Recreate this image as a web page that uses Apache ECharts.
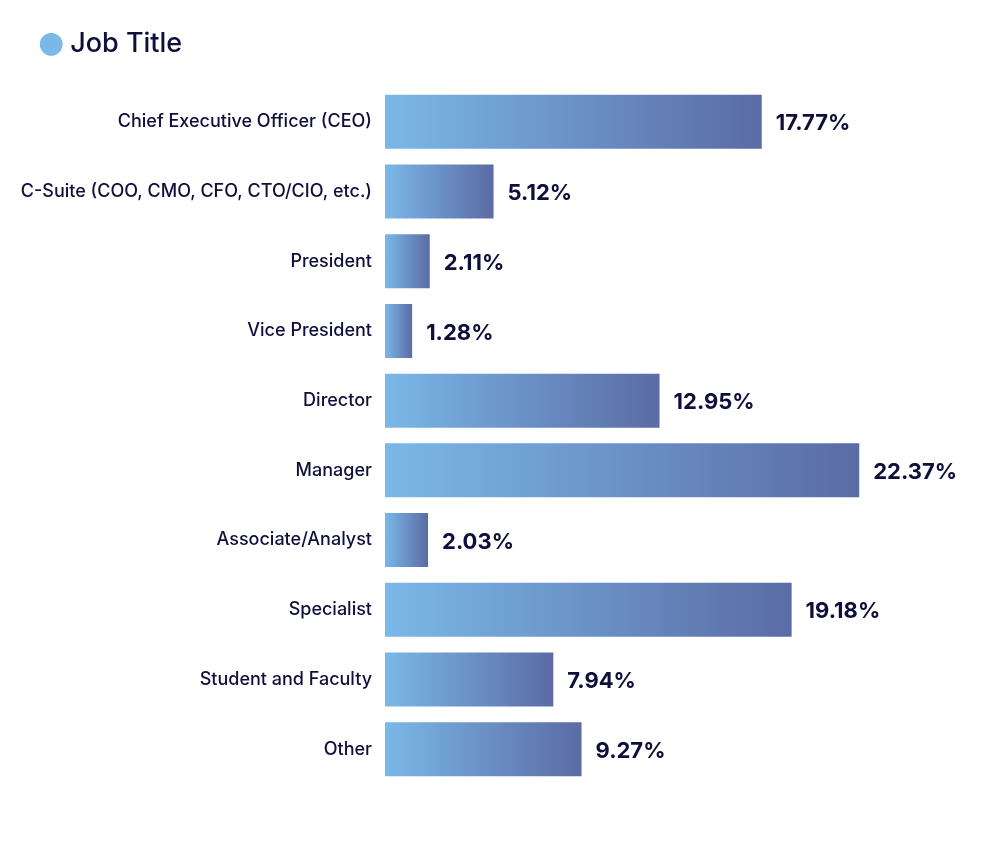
<!DOCTYPE html>
<html>
<head>
<meta charset="utf-8">
<script src="https://cdn.jsdelivr.net/npm/echarts@6/dist/echarts.min.js"></script>
<style>
  html, body { margin: 0; padding: 0; background: #fff; }
  #chart { width: 985px; height: 851px; }
</style>
</head>
<body>
<div id="chart"></div>
<script>
const categories = [
  'Chief Executive Officer (CEO)',
  'C-Suite (COO, CMO, CFO, CTO/CIO, etc.)',
  'President',
  'Vice President',
  'Director',
  'Manager',
  'Associate/Analyst',
  'Specialist',
  'Student and Faculty',
  'Other'
];
const shares = [17.77, 5.12, 2.11, 1.28, 12.95, 22.37, 2.03, 19.18, 7.94, 9.27];

const textColor = '#0e0f3b';
const chart = echarts.init(document.getElementById('chart'));

chart.setOption({
  animation: false,
  title: {
    text: '{dot|●}{txt|Job Title}',
    left: 33,
    top: 24,
    textStyle: {
      rich: {
        dot: { color: '#7ab8e8', fontSize: 30, fontFamily: 'DejaVu Sans', padding: [0, 6, 0, 0] },
        txt: { color: textColor, fontSize: 27, fontFamily: 'Inter', fontWeight: 500 }
      }
    }
  },
  grid: { left: 385, top: 87, width: 530, height: 697 },
  xAxis: {
    type: 'value',
    min: 0,
    max: 25,
    show: false
  },
  yAxis: {
    type: 'category',
    data: categories,
    inverse: true,
    axisLine: { show: false },
    axisTick: { show: false },
    axisLabel: {
      margin: 13,
      color: textColor,
      fontFamily: 'Inter',
      fontSize: 18,
      fontWeight: 500
    }
  },
  series: [{
    type: 'bar',
    data: shares,
    barWidth: 54,
    itemStyle: {
      color: new echarts.graphic.LinearGradient(0, 0, 1, 0, [
        { offset: 0, color: '#7ab8e8' },
        { offset: 1, color: '#5b6ba5' }
      ])
    },
    label: {
      show: true,
      position: 'right',
      distance: 14,
      offset: [0, 2],
      color: textColor,
      fontFamily: 'Inter',
      fontSize: 22,
      fontWeight: 700,
      formatter: p => p.value.toFixed(2) + '%'
    }
  }]
});
</script>
</body>
</html>
